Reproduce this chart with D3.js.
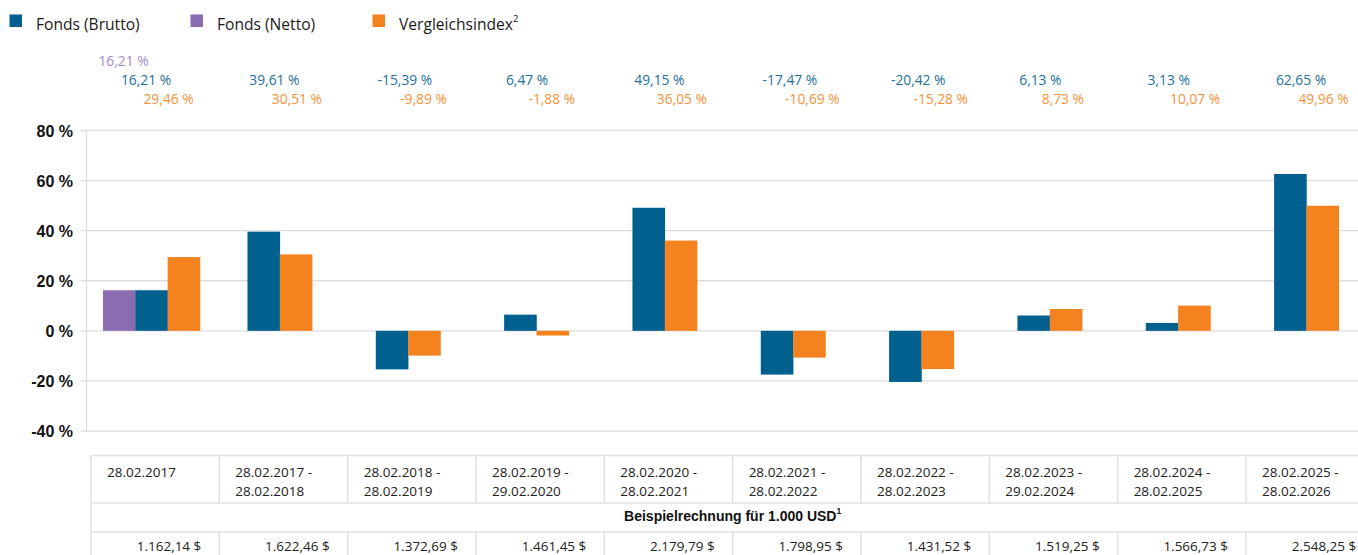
<!DOCTYPE html>
<html>
<head>
<meta charset="utf-8">
<script src="https://cdn.jsdelivr.net/npm/d3@7"></script>
<style>
  html, body { margin: 0; padding: 0; background: #fff; }
  svg { display: block; }
</style>
</head>
<body>
<div id="chart"></div>
<script>
// Zeiträume (Kategorien), zweizeilig in der Tabelle
const periods = [
  ['28.02.2017'],
  ['28.02.2017 -', '28.02.2018'],
  ['28.02.2018 -', '28.02.2019'],
  ['28.02.2019 -', '29.02.2020'],
  ['28.02.2020 -', '28.02.2021'],
  ['28.02.2021 -', '28.02.2022'],
  ['28.02.2022 -', '28.02.2023'],
  ['28.02.2023 -', '29.02.2024'],
  ['28.02.2024 -', '28.02.2025'],
  ['28.02.2025 -', '28.02.2026'],
];

const fondsNetto   = [16.21, null, null, null, null, null, null, null, null, null];
const fondsBrutto  = [16.21, 39.61, -15.39, 6.47, 49.15, -17.47, -20.42, 6.13, 3.13, 62.65];
const vergleich    = [29.46, 30.51, -9.89, -1.88, 36.05, -10.69, -15.28, 8.73, 10.07, 49.96];

const beispiel = ['1.162,14 $', '1.622,46 $', '1.372,69 $', '1.461,45 $', '2.179,79 $',
                  '1.798,95 $', '1.431,52 $', '1.519,25 $', '1.566,73 $', '2.548,25 $'];

const yTicks = [-40, -20, 0, 20, 40, 60, 80];

const SERIES = [
  { key: 'netto',  label: 'Fonds (Netto)',  values: fondsNetto,  color: '#8a6db0', text: '#a48bc6' },
  { key: 'brutto', label: 'Fonds (Brutto)', values: fondsBrutto, color: '#00618f', text: '#23709e' },
  { key: 'index',  label: 'Vergleichsindex', values: vergleich,  color: '#f4821f', text: '#f7923a' },
];
const LEGEND_ORDER = ['brutto', 'netto', 'index'];

const W = 1358, H = 555;
const fmt = v => `${v.toFixed(2).replace('.', ',')} %`;

const svg = d3.select('#chart').append('svg')
  .attr('width', W).attr('height', H);

const x = d3.scaleBand()
  .domain(periods.map((_, i) => i))
  .range([87.3, 1370.6])
  .padding(0);

const y = d3.scaleLinear().domain([-40, 80]).range([431, 130.5]);

const barW = x.bandwidth() * 0.252;

// Gitterlinien (ragen als kleine Ticks links über die Achse)
svg.append('g').selectAll('line').data(yTicks).join('line')
  .attr('x1', 80.5).attr('x2', W)
  .attr('y1', d => y(d)).attr('y2', d => y(d))
  .attr('stroke', '#dedede').attr('stroke-width', 1.3);

svg.append('line')
  .attr('x1', 86.5).attr('x2', 86.5)
  .attr('y1', y(80)).attr('y2', y(-40))
  .attr('stroke', '#dedede').attr('stroke-width', 1.3);

// Y-Achse
svg.append('g').selectAll('text').data(yTicks).join('text')
  .attr('x', 73).attr('y', d => y(d) + 6)
  .attr('text-anchor', 'end')
  .attr('font-family', '"Liberation Sans", Arial, sans-serif')
  .attr('font-weight', 'bold').attr('font-size', 16)
  .attr('fill', '#111')
  .text(d => `${d} %`);

// Balken
periods.forEach((_, i) => {
  const present = SERIES.filter(s => s.values[i] != null);
  const cx = x(i) + x.bandwidth() / 2;
  const start = cx - present.length * barW / 2;
  present.forEach((s, j) => {
    const v = s.values[i];
    svg.append('rect')
      .attr('x', start + j * barW)
      .attr('width', barW + 0.3)
      .attr('y', y(Math.max(0, v)))
      .attr('height', Math.abs(y(v) - y(0)))
      .attr('fill', s.color);
  });

  // Wertelabels oben
  SERIES.forEach((s, k) => {
    const v = s.values[i];
    if (v == null) return;
    svg.append('text')
      .attr('x', cx - 53 + k * 22.5)
      .attr('y', 66 + k * 19)
      .attr('font-family', '"Open Sans", sans-serif')
      .attr('font-size', 13.8)
      .attr('fill', s.text)
      .text(fmt(v));
  });
});

// Legende
const legendX = [9.5, 190.5, 372.5];
LEGEND_ORDER.forEach((key, i) => {
  const s = SERIES.find(d => d.key === key);
  const lg = svg.append('g').attr('transform', `translate(${legendX[i]},0)`);
  lg.append('rect').attr('x', 0).attr('y', 14.5).attr('width', 12.5).attr('height', 12.5).attr('fill', s.color);
  const t = lg.append('text').attr('x', 26.5).attr('y', 29.5)
    .attr('font-family', '"Open Sans", sans-serif')
    .attr('font-size', 15.6).attr('fill', '#1a1a1a')
    .text(s.label);
  if (key === 'index') {
    t.append('tspan').attr('font-size', 9.5).attr('dy', -7.5).text('2');
  }
});

// Tabelle
const tTop = 455.5, tRow1 = 503, tRow2 = 532, tBottom = 560;
const colX = i => x(i) + 3.7;
const tRight = colX(periods.length - 1) + x.bandwidth();
const lineC = '#e0e0e0';
const tbl = svg.append('g');

tbl.append('line').attr('x1', colX(0)).attr('x2', tRight).attr('y1', tTop).attr('y2', tTop)
  .attr('stroke', lineC).attr('stroke-width', 1.5);
[tRow1, tRow2].forEach(yy => {
  tbl.append('line').attr('x1', colX(0)).attr('x2', tRight).attr('y1', yy).attr('y2', yy)
    .attr('stroke', lineC).attr('stroke-width', 1.5);
});
tbl.append('line').attr('x1', colX(0)).attr('x2', colX(0)).attr('y1', tTop).attr('y2', tBottom)
  .attr('stroke', lineC).attr('stroke-width', 1.5);

periods.forEach((p, i) => {
  if (i > 0) {
    [[tTop, tRow1], [tRow2, tBottom]].forEach(([a, b]) => {
      tbl.append('line').attr('x1', colX(i)).attr('x2', colX(i)).attr('y1', a).attr('y2', b)
        .attr('stroke', lineC).attr('stroke-width', 1.5);
    });
  }
  const t = tbl.append('text')
    .attr('font-family', '"Open Sans", sans-serif')
    .attr('font-size', 13.5).attr('fill', '#222');
  p.forEach((line, li) => {
    t.append('tspan').attr('x', colX(i) + 16).attr('y', 477 + li * 18.5).text(line);
  });
  tbl.append('text')
    .attr('x', colX(i) + x.bandwidth() - 18).attr('y', 551)
    .attr('text-anchor', 'end')
    .attr('font-family', '"Open Sans", sans-serif')
    .attr('font-size', 13.5).attr('fill', '#222')
    .text(beispiel[i]);
});

const bt = tbl.append('text')
  .attr('x', (colX(0) + tRight) / 2).attr('y', 520.5)
  .attr('text-anchor', 'middle')
  .attr('font-family', '"Liberation Sans", Arial, sans-serif')
  .attr('font-weight', 'bold').attr('font-size', 14).attr('fill', '#111')
  .text('Beispielrechnung für 1.000 USD');
bt.append('tspan').attr('font-size', 8.5).attr('dy', -6.5).text('1');
</script>
</body>
</html>
